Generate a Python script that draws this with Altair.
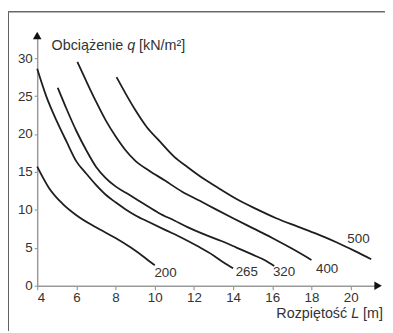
import altair as alt
import pandas as pd

# ---- data ----
L_200 = [4.0, 4.6, 5.3, 6.0, 7.0, 8.0, 8.8, 9.5, 10.0]
q_200 = [15.7, 12.9, 10.8, 9.3, 7.7, 6.3, 5.0, 3.7, 2.7]

L_265 = [4.0, 4.46, 5.0, 5.5, 6.0, 6.5, 7.0, 7.5, 8.0, 8.5, 9.0, 9.7, 10.5, 11.4, 12.2, 13.0, 13.5, 14.0]
q_265 = [28.6, 25.0, 21.7, 19.0, 16.4, 14.8, 13.3, 12.0, 11.0, 10.1, 9.3, 8.4, 7.4, 6.3, 5.2, 4.0, 3.1, 2.3]

L_320 = [5.05, 5.5, 6.0, 6.5, 7.0, 7.5, 8.0, 8.7, 9.5, 10.2, 11.0, 11.7, 12.5, 13.4, 14.2, 15.0, 15.6, 16.1]
q_320 = [26.1, 23.3, 20.4, 17.9, 15.7, 14.2, 13.1, 12.0, 10.7, 9.6, 8.6, 7.7, 6.8, 5.9, 5.0, 4.1, 3.4, 2.6]

L_400 = [6.05, 6.5, 7.0, 7.5, 8.0, 8.5, 9.0, 9.7, 10.5, 11.4, 12.3, 13.1, 14.0, 15.0, 16.0, 17.0, 18.0]
q_400 = [29.5, 27.0, 24.3, 21.8, 19.7, 17.9, 16.5, 15.2, 13.9, 12.4, 11.2, 10.1, 8.9, 7.6, 6.3, 4.9, 3.4]

L_500 = [8.05, 8.5, 9.0, 9.6, 10.2, 11.0, 11.7, 12.5, 13.3, 14.2, 15.2, 16.2, 17.3, 18.3, 19.3, 20.2, 21.05]
q_500 = [27.5, 25.4, 23.2, 20.9, 19.2, 17.0, 15.6, 14.1, 12.8, 11.4, 10.1, 8.9, 7.8, 6.8, 5.7, 4.6, 3.5]

series_names = ["200", "265", "320", "400", "500"]
label_L = [10.55, 14.7, 16.6, 18.8, 20.4]
label_q = [1.7, 1.8, 1.8, 2.2, 6.1]

x_ticks = [4, 6, 8, 10, 12, 14, 16, 18, 20]
y_ticks = [0, 5, 10, 15, 20, 25, 30]

# ---- tables ----
rows = []
for name, Ls, qs in zip(series_names, [L_200, L_265, L_320, L_400, L_500],
                        [q_200, q_265, q_320, q_400, q_500]):
    for i, (l, q) in enumerate(zip(Ls, qs)):
        rows.append({"series": name, "L": l, "q": q, "order": i})
df = pd.DataFrame(rows)
labels = pd.DataFrame({"series": series_names, "L": label_L, "q": label_q})
one = pd.DataFrame({"a": [0]})

W, H = 344.5, 253
FONT = "Liberation Sans"
NUM = 13.5
TIT = 14.5

xs = alt.Scale(domain=[4, 21.4], nice=False, zero=False)
ys = alt.Scale(domain=[0, 33], nice=False, zero=False)

x_axis = alt.Axis(values=x_ticks, title=None, grid=False, domainColor="#9a9a9a",
                  domainWidth=1.5, tickColor="#9a9a9a", tickSize=4, tickWidth=1.2,
                  labelFont=FONT, labelFontSize=NUM, labelColor="#333333",
                  labelPadding=1)
y_axis = alt.Axis(values=y_ticks, title=None, grid=False, domainColor="#9a9a9a",
                  domainWidth=1.5, tickColor="#9a9a9a", tickSize=3, tickWidth=1.2,
                  labelFont=FONT, labelFontSize=NUM, labelColor="#333333",
                  labelPadding=2)

lines = alt.Chart(df).mark_line(color="#1e1e1e", strokeWidth=1.8,
                                interpolate="monotone").encode(
    x=alt.X("L:Q", scale=xs, axis=x_axis),
    y=alt.Y("q:Q", scale=ys, axis=y_axis),
    detail="series:N",
    order="order:Q",
)

lab = alt.Chart(labels).mark_text(font=FONT, fontSize=NUM, color="#333333",
                                  align="center", baseline="middle").encode(
    x=alt.X("L:Q", scale=xs), y=alt.Y("q:Q", scale=ys), text="series:N")

def txt(s, x, y, align="left", italic=False):
    kw = dict(font=FONT, fontSize=TIT, color="#333333", align=align,
              baseline="middle", text=s)
    if italic:
        kw["fontStyle"] = "italic"
    return alt.Chart(one).mark_text(**kw).encode(x=alt.value(x), y=alt.value(y))

ytitle = txt("Obciążenie", 14.5, 11) + txt("q", 91, 11, italic=True) + txt("[kN/m²]", 103, 11)
xtitle = (txt("Rozpiętość", 313.3, 282, align="right")
          + txt("L", 325.4, 282, align="right", italic=True)
          + txt("[m]", 349.5, 282, align="right"))

arrow_up = alt.Chart(one).mark_point(shape="triangle-up", filled=True, color="#111111",
                                     size=75, opacity=1).encode(
    x=alt.value(0), y=alt.value(0))
arrow_right = alt.Chart(one).mark_point(shape="triangle-right", filled=True, color="#111111",
                                        size=75, opacity=1).encode(
    x=alt.value(W), y=alt.value(H))

frame_left = alt.Chart(one).mark_rule(color="#3a3a3a", strokeWidth=1.6).encode(
    x=alt.value(-29.5), y=alt.value(-24), y2=alt.value(H + 50))
frame_top = alt.Chart(one).mark_rule(color="#6a6a6a", strokeWidth=1.6).encode(
    x=alt.value(-29.5), x2=alt.value(W + 10), y=alt.value(-24))

chart = alt.layer(frame_left, frame_top, lines, lab, ytitle, xtitle,
                  arrow_up, arrow_right).properties(
    width=W, height=H,
    autosize=alt.AutoSizeParams(type="none"),
    padding={"left": 29.5, "top": 26, "right": 7, "bottom": 44},
    background="#ffffff",
).configure_view(stroke=None)

chart.save("out.html", embed_options={"renderer": "svg", "actions": False})
